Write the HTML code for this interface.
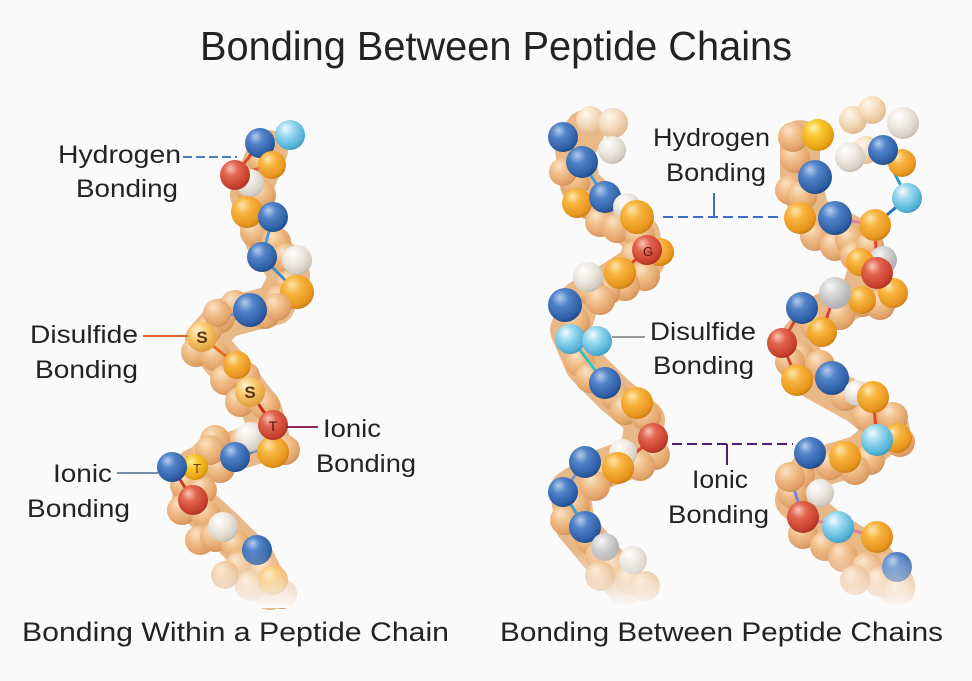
<!DOCTYPE html>
<html><head><meta charset="utf-8"><style>
html,body{margin:0;padding:0;background:#fbfafb;}
svg{display:block;}
text{font-family:"Liberation Sans",sans-serif;fill:#232323;}
</style></head><body>
<svg width="972" height="681" viewBox="0 0 972 681" xmlns="http://www.w3.org/2000/svg">
<defs>
<radialGradient id="gOr" cx="0.4" cy="0.35" r="0.7" fx="0.35" fy="0.28"><stop offset="0" stop-color="#fde6b0"/><stop offset="0.35" stop-color="#f8b540"/><stop offset="0.8" stop-color="#e8961e"/><stop offset="1" stop-color="#c47812"/></radialGradient>
<radialGradient id="gYe" cx="0.4" cy="0.35" r="0.7" fx="0.35" fy="0.28"><stop offset="0" stop-color="#fff2b0"/><stop offset="0.35" stop-color="#f9c932"/><stop offset="0.8" stop-color="#e9a414"/><stop offset="1" stop-color="#c8860d"/></radialGradient>
<radialGradient id="gTan" cx="0.4" cy="0.35" r="0.7" fx="0.35" fy="0.28"><stop offset="0" stop-color="#fbe3c6"/><stop offset="0.4" stop-color="#f1c08c"/><stop offset="0.85" stop-color="#dfa066"/><stop offset="1" stop-color="#c98a52"/></radialGradient>
<radialGradient id="gPale" cx="0.4" cy="0.35" r="0.7" fx="0.35" fy="0.28"><stop offset="0" stop-color="#fff6ea"/><stop offset="0.5" stop-color="#f5dcbd"/><stop offset="1" stop-color="#dfb58a"/></radialGradient>
<radialGradient id="gBl" cx="0.4" cy="0.35" r="0.7" fx="0.35" fy="0.28"><stop offset="0" stop-color="#b3cdee"/><stop offset="0.35" stop-color="#5183c8"/><stop offset="0.8" stop-color="#2f5fa6"/><stop offset="1" stop-color="#1e4580"/></radialGradient>
<radialGradient id="gLb" cx="0.4" cy="0.35" r="0.7" fx="0.35" fy="0.28"><stop offset="0" stop-color="#f2fbff"/><stop offset="0.4" stop-color="#94d6ee"/><stop offset="0.85" stop-color="#4fb0d4"/><stop offset="1" stop-color="#3a90b4"/></radialGradient>
<radialGradient id="gRd" cx="0.4" cy="0.35" r="0.7" fx="0.35" fy="0.28"><stop offset="0" stop-color="#f9c6b6"/><stop offset="0.35" stop-color="#e2654f"/><stop offset="0.8" stop-color="#c9402f"/><stop offset="1" stop-color="#a32f22"/></radialGradient>
<radialGradient id="gWh" cx="0.4" cy="0.35" r="0.7" fx="0.35" fy="0.28"><stop offset="0" stop-color="#ffffff"/><stop offset="0.45" stop-color="#eee9e1"/><stop offset="0.85" stop-color="#d4cdc2"/><stop offset="1" stop-color="#b9b1a6"/></radialGradient>
<radialGradient id="gGr" cx="0.4" cy="0.35" r="0.7" fx="0.35" fy="0.28"><stop offset="0" stop-color="#f6f6f6"/><stop offset="0.45" stop-color="#d2d2d2"/><stop offset="1" stop-color="#a9a9a9"/></radialGradient>
<radialGradient id="gS" cx="0.4" cy="0.35" r="0.7" fx="0.35" fy="0.28"><stop offset="0" stop-color="#fff3cc"/><stop offset="0.45" stop-color="#f8c86c"/><stop offset="1" stop-color="#dd9a36"/></radialGradient>
<linearGradient id="fade" x1="0" y1="0" x2="0" y2="1"><stop offset="0" stop-color="#fbfafb" stop-opacity="0"/><stop offset="1" stop-color="#fbfafb" stop-opacity="1"/></linearGradient>
</defs>

<!-- Title -->
<text x="200" y="60" font-size="41" textLength="592" lengthAdjust="spacingAndGlyphs">Bonding Between Peptide Chains</text>

<!-- ========== LEFT CHAIN ========== -->
<polyline points="268,150 250,195 265,240 290,275 275,305 225,318 205,340 235,375 262,410 270,440 230,452 195,468 192,500 225,530 255,560 270,590" fill="none" stroke="#e6b07a" stroke-width="40" stroke-linejoin="round" stroke-linecap="round" opacity="0.9"/>
<g fill="url(#gTan)">
<circle cx="262" cy="160" r="14"/><circle cx="250" cy="188" r="15"/><circle cx="262" cy="195" r="14"/>
<circle cx="255" cy="232" r="15"/><circle cx="276" cy="242" r="15"/><circle cx="287" cy="258" r="15"/>
<circle cx="290" cy="285" r="15"/><circle cx="280" cy="300" r="15"/><circle cx="265" cy="314" r="15"/>
<circle cx="235" cy="305" r="15"/><circle cx="220" cy="318" r="15"/><circle cx="208" cy="330" r="14"/>
<circle cx="196" cy="352" r="15"/><circle cx="215" cy="356" r="15"/><circle cx="225" cy="380" r="15"/>
<circle cx="246" cy="376" r="14"/><circle cx="240" cy="402" r="15"/><circle cx="265" cy="405" r="15"/>
<circle cx="285" cy="450" r="15"/><circle cx="260" cy="435" r="15"/><circle cx="243" cy="442" r="15"/>
<circle cx="215" cy="440" r="15"/><circle cx="205" cy="455" r="15"/><circle cx="220" cy="468" r="15"/>
<circle cx="185" cy="485" r="15"/><circle cx="203" cy="490" r="14"/><circle cx="182" cy="510" r="15"/>
<circle cx="206" cy="515" r="15"/><circle cx="200" cy="540" r="15"/><circle cx="215" cy="537" r="15"/>
<circle cx="236" cy="546" r="15"/><circle cx="240" cy="566" r="15"/><circle cx="265" cy="570" r="15"/>
<circle cx="250" cy="586" r="15"/><circle cx="282" cy="594" r="15"/><circle cx="225" cy="575" r="14"/>
</g>
<!-- bonds -->
<g stroke-width="3" stroke-linecap="round">
<line x1="235" y1="175" x2="260" y2="143" stroke="#d9442f"/>
<line x1="235" y1="175" x2="272" y2="165" stroke="#e0603a"/>
<line x1="273" y1="217" x2="262" y2="257" stroke="#4a9fd8"/>
<line x1="262" y1="257" x2="297" y2="292" stroke="#3d8cd0"/>
<line x1="250" y1="310" x2="218" y2="318" stroke="#6b9be0"/>
<line x1="202" y1="337" x2="237" y2="365" stroke="#e0701e"/>
<line x1="237" y1="365" x2="250" y2="392" stroke="#f5d21a"/>
<line x1="250" y1="392" x2="273" y2="425" stroke="#cc2a1a"/>
<line x1="172" y1="467" x2="193" y2="500" stroke="#cc3a2a"/>
<line x1="235" y1="457" x2="258" y2="450" stroke="#3d8cd0"/>
</g>
<g>
<circle cx="250" cy="183" r="14" fill="url(#gWh)"/>
<circle cx="260" cy="143" r="15" fill="url(#gBl)"/>
<circle cx="290" cy="135" r="15" fill="url(#gLb)"/>
<circle cx="272" cy="165" r="14" fill="url(#gOr)"/>
<circle cx="235" cy="175" r="15" fill="url(#gRd)"/>
<circle cx="247" cy="212" r="16" fill="url(#gOr)"/>
<circle cx="273" cy="217" r="15" fill="url(#gBl)"/>
<circle cx="297" cy="260" r="15" fill="url(#gWh)"/>
<circle cx="262" cy="257" r="15" fill="url(#gBl)"/>
<circle cx="297" cy="292" r="17" fill="url(#gOr)"/>
<circle cx="277" cy="307" r="14" fill="url(#gTan)"/>
<circle cx="217" cy="313" r="14" fill="url(#gTan)"/>
<circle cx="250" cy="310" r="17" fill="url(#gBl)"/>
<circle cx="202" cy="337" r="15" fill="url(#gS)"/>
<circle cx="237" cy="365" r="14" fill="url(#gOr)"/>
<circle cx="250" cy="392" r="15" fill="url(#gS)"/>
<circle cx="250" cy="437" r="15" fill="url(#gWh)"/>
<circle cx="273" cy="452" r="16" fill="url(#gOr)"/>
<circle cx="273" cy="425" r="15" fill="url(#gRd)"/>
<circle cx="210" cy="450" r="15" fill="url(#gTan)"/>
<circle cx="235" cy="457" r="15" fill="url(#gBl)"/>
<circle cx="195" cy="467" r="13" fill="url(#gYe)"/>
<circle cx="172" cy="467" r="15" fill="url(#gBl)"/>
<circle cx="193" cy="500" r="15" fill="url(#gRd)"/>
<circle cx="223" cy="527" r="15" fill="url(#gWh)"/>
<circle cx="257" cy="550" r="15" fill="url(#gBl)"/>
<circle cx="273" cy="580" r="15" fill="url(#gOr)"/>
</g>
<text x="202" y="343" font-size="17" font-weight="bold" text-anchor="middle" style="fill:#5a3510">S</text>
<text x="250" y="398" font-size="17" font-weight="bold" text-anchor="middle" style="fill:#5a3510">S</text>
<text x="273" y="431" font-size="14" text-anchor="middle" style="fill:#4a1a10">T</text>
<text x="197" y="473" font-size="13" text-anchor="middle" style="fill:#6a4510">T</text>
<rect x="140" y="550" width="200" height="58" fill="url(#fade)"/>

<!-- ========== RIGHT CHAIN 1 ========== -->
<polyline points="585,130 575,150 580,185 610,210 640,235 645,260 615,280 580,300 570,330 585,365 615,395 645,420 640,455 600,470 570,490 575,525 600,555 625,585" fill="none" stroke="#e6b07a" stroke-width="40" stroke-linejoin="round" stroke-linecap="round" opacity="0.9"/>
<g>
<circle cx="590" cy="120" r="14" fill="url(#gPale)"/>
<circle cx="613" cy="123" r="15" fill="url(#gPale)"/>
<circle cx="612" cy="150" r="14" fill="url(#gWh)"/>
</g>
<g fill="url(#gTan)">
<circle cx="575" cy="182" r="15"/><circle cx="590" cy="205" r="15"/><circle cx="600" cy="222" r="15"/>
<circle cx="617" cy="228" r="15"/><circle cx="640" cy="236" r="15"/><circle cx="635" cy="256" r="15"/>
<circle cx="660" cy="252" r="14"/><circle cx="645" cy="276" r="15"/><circle cx="625" cy="286" r="15"/>
<circle cx="605" cy="292" r="15"/><circle cx="590" cy="290" r="15"/><circle cx="600" cy="300" r="15"/>
<circle cx="575" cy="322" r="15"/><circle cx="580" cy="362" r="15"/><circle cx="590" cy="378" r="15"/>
<circle cx="615" cy="396" r="15"/><circle cx="625" cy="410" r="15"/><circle cx="646" cy="416" r="15"/>
<circle cx="655" cy="455" r="15"/><circle cx="640" cy="466" r="15"/><circle cx="600" cy="476" r="15"/>
<circle cx="595" cy="486" r="15"/><circle cx="575" cy="506" r="15"/><circle cx="565" cy="520" r="15"/>
<circle cx="590" cy="540" r="15"/><circle cx="600" cy="556" r="15"/><circle cx="615" cy="566" r="15"/>
<circle cx="630" cy="580" r="15"/><circle cx="600" cy="576" r="15"/><circle cx="645" cy="586" r="15"/>
</g>
<g stroke-width="3" stroke-linecap="round">
<line x1="563" y1="137" x2="582" y2="162" stroke="#3aa0d0"/>
<line x1="582" y1="162" x2="605" y2="197" stroke="#3aa0d0"/>
<line x1="647" y1="250" x2="620" y2="273" stroke="#e0401e"/>
<line x1="570" y1="337" x2="605" y2="383" stroke="#38c0c0"/>
<line x1="653" y1="438" x2="618" y2="468" stroke="#d9442f"/>
<line x1="585" y1="462" x2="563" y2="492" stroke="#7a90d8"/>
<line x1="563" y1="492" x2="585" y2="527" stroke="#3aa0d0"/>
<line x1="585" y1="527" x2="605" y2="547" stroke="#3aa0d0"/>
</g>
<g>
<circle cx="563" cy="137" r="15" fill="url(#gBl)"/>
<circle cx="563" cy="172" r="14" fill="url(#gTan)"/>
<circle cx="582" cy="162" r="16" fill="url(#gBl)"/>
<circle cx="577" cy="203" r="15" fill="url(#gOr)"/>
<circle cx="605" cy="197" r="16" fill="url(#gBl)"/>
<circle cx="627" cy="207" r="14" fill="url(#gWh)"/>
<circle cx="637" cy="217" r="17" fill="url(#gOr)"/>
<circle cx="660" cy="252" r="14" fill="url(#gOr)"/>
<circle cx="647" cy="250" r="15" fill="url(#gRd)"/>
<circle cx="588" cy="277" r="15" fill="url(#gWh)"/>
<circle cx="620" cy="273" r="16" fill="url(#gOr)"/>
<circle cx="565" cy="305" r="17" fill="url(#gBl)"/>
<circle cx="570" cy="339" r="15" fill="url(#gLb)"/>
<circle cx="597" cy="341" r="15" fill="url(#gLb)"/>
<circle cx="605" cy="383" r="16" fill="url(#gBl)"/>
<circle cx="637" cy="403" r="16" fill="url(#gOr)"/>
<circle cx="623" cy="453" r="14" fill="url(#gWh)"/>
<circle cx="653" cy="438" r="15" fill="url(#gRd)"/>
<circle cx="585" cy="462" r="16" fill="url(#gBl)"/>
<circle cx="618" cy="468" r="16" fill="url(#gOr)"/>
<circle cx="563" cy="492" r="15" fill="url(#gBl)"/>
<circle cx="585" cy="527" r="16" fill="url(#gBl)"/>
<circle cx="605" cy="547" r="14" fill="url(#gGr)"/>
<circle cx="633" cy="560" r="14" fill="url(#gWh)"/>
</g>
<text x="648" y="256" font-size="13" text-anchor="middle" style="fill:#5a1a10">G</text>
<rect x="530" y="550" width="160" height="58" fill="url(#fade)"/>

<!-- ========== RIGHT CHAIN 2 ========== -->
<polyline points="800,140 800,175 810,215 850,235 870,265 860,295 820,315 795,345 815,380 860,405 890,430 860,455 810,470 795,500 830,530 870,555 895,585" fill="none" stroke="#e6b07a" stroke-width="40" stroke-linejoin="round" stroke-linecap="round" opacity="0.9"/>
<g>
<circle cx="853" cy="120" r="14" fill="url(#gPale)"/>
<circle cx="872" cy="110" r="14" fill="url(#gPale)"/>
<circle cx="903" cy="123" r="16" fill="url(#gWh)"/>
<circle cx="866" cy="150" r="14" fill="url(#gPale)"/>
<circle cx="850" cy="157" r="15" fill="url(#gWh)"/>
</g>
<g fill="url(#gTan)">
<circle cx="795" cy="158" r="15"/><circle cx="790" cy="190" r="15"/><circle cx="802" cy="196" r="15"/>
<circle cx="815" cy="236" r="15"/><circle cx="835" cy="246" r="15"/><circle cx="850" cy="240" r="15"/>
<circle cx="855" cy="256" r="15"/><circle cx="870" cy="246" r="14"/><circle cx="862" cy="302" r="15"/>
<circle cx="880" cy="305" r="15"/><circle cx="840" cy="315" r="15"/><circle cx="815" cy="325" r="15"/>
<circle cx="800" cy="357" r="15"/><circle cx="790" cy="362" r="15"/><circle cx="820" cy="365" r="15"/>
<circle cx="845" cy="396" r="15"/><circle cx="867" cy="417" r="15"/><circle cx="893" cy="417" r="15"/>
<circle cx="900" cy="442" r="15"/><circle cx="870" cy="460" r="15"/><circle cx="855" cy="470" r="15"/>
<circle cx="830" cy="465" r="15"/><circle cx="800" cy="475" r="15"/><circle cx="790" cy="478" r="15"/>
<circle cx="793" cy="494" r="15"/><circle cx="803" cy="534" r="15"/><circle cx="825" cy="546" r="15"/>
<circle cx="843" cy="557" r="15"/><circle cx="867" cy="567" r="15"/><circle cx="880" cy="582" r="15"/>
<circle cx="855" cy="580" r="15"/><circle cx="900" cy="590" r="15"/>
</g>
<g stroke-width="3" stroke-linecap="round">
<line x1="883" y1="150" x2="907" y2="198" stroke="#2aa0c8"/>
<line x1="907" y1="198" x2="875" y2="225" stroke="#2a70c0"/>
<line x1="835" y1="218" x2="875" y2="225" stroke="#e080b0"/>
<line x1="875" y1="225" x2="877" y2="273" stroke="#d9442f"/>
<line x1="802" y1="308" x2="782" y2="343" stroke="#d9442f"/>
<line x1="835" y1="293" x2="822" y2="332" stroke="#d9442f"/>
<line x1="782" y1="343" x2="797" y2="380" stroke="#d9442f"/>
<line x1="832" y1="378" x2="873" y2="397" stroke="#8a90e0"/>
<line x1="873" y1="397" x2="877" y2="440" stroke="#d9442f"/>
<line x1="790" y1="477" x2="803" y2="517" stroke="#7a80e0"/>
<line x1="803" y1="517" x2="877" y2="537" stroke="#e080a0"/>
</g>
<g>
<circle cx="793" cy="137" r="15" fill="url(#gTan)"/>
<circle cx="818" cy="135" r="16" fill="url(#gYe)"/>
<circle cx="902" cy="163" r="14" fill="url(#gOr)"/>
<circle cx="883" cy="150" r="15" fill="url(#gBl)"/>
<circle cx="815" cy="177" r="17" fill="url(#gBl)"/>
<circle cx="907" cy="198" r="15" fill="url(#gLb)"/>
<circle cx="800" cy="218" r="16" fill="url(#gOr)"/>
<circle cx="835" cy="218" r="17" fill="url(#gBl)"/>
<circle cx="875" cy="225" r="16" fill="url(#gOr)"/>
<circle cx="883" cy="260" r="14" fill="url(#gGr)"/>
<circle cx="860" cy="262" r="14" fill="url(#gOr)"/>
<circle cx="893" cy="293" r="15" fill="url(#gOr)"/>
<circle cx="877" cy="273" r="16" fill="url(#gRd)"/>
<circle cx="862" cy="300" r="14" fill="url(#gOr)"/>
<circle cx="835" cy="293" r="16" fill="url(#gGr)"/>
<circle cx="802" cy="308" r="16" fill="url(#gBl)"/>
<circle cx="822" cy="332" r="15" fill="url(#gOr)"/>
<circle cx="782" cy="343" r="15" fill="url(#gRd)"/>
<circle cx="797" cy="380" r="16" fill="url(#gOr)"/>
<circle cx="832" cy="378" r="17" fill="url(#gBl)"/>
<circle cx="857" cy="393" r="13" fill="url(#gWh)"/>
<circle cx="873" cy="397" r="16" fill="url(#gOr)"/>
<circle cx="897" cy="438" r="15" fill="url(#gOr)"/>
<circle cx="877" cy="440" r="16" fill="url(#gLb)"/>
<circle cx="790" cy="477" r="15" fill="url(#gTan)"/>
<circle cx="820" cy="493" r="14" fill="url(#gWh)"/>
<circle cx="845" cy="457" r="16" fill="url(#gOr)"/>
<circle cx="810" cy="453" r="16" fill="url(#gBl)"/>
<circle cx="803" cy="517" r="16" fill="url(#gRd)"/>
<circle cx="838" cy="527" r="16" fill="url(#gLb)"/>
<circle cx="877" cy="537" r="16" fill="url(#gOr)"/>
<circle cx="897" cy="567" r="15" fill="url(#gBl)"/>
</g>
<rect x="765" y="552" width="170" height="56" fill="url(#fade)"/>

<!-- ========== LEADER LINES ========== -->
<line x1="183" y1="157" x2="237" y2="157" stroke="#4a7cc4" stroke-width="2" stroke-dasharray="9,4"/>
<line x1="143" y1="336" x2="188" y2="336" stroke="#e0602a" stroke-width="2"/>
<line x1="286" y1="427" x2="318" y2="427" stroke="#8a2a5a" stroke-width="2"/>
<line x1="117" y1="473" x2="158" y2="473" stroke="#7a8aa8" stroke-width="2"/>

<line x1="663" y1="217" x2="778" y2="217" stroke="#3a70c0" stroke-width="2" stroke-dasharray="10,5"/>
<line x1="714" y1="193" x2="714" y2="217" stroke="#3a70c0" stroke-width="2"/>
<line x1="612" y1="337" x2="645" y2="337" stroke="#9a9a9a" stroke-width="2"/>
<line x1="672" y1="444" x2="793" y2="444" stroke="#5a1a7a" stroke-width="2" stroke-dasharray="10,5"/>
<line x1="727" y1="444" x2="727" y2="465" stroke="#5a1a7a" stroke-width="2"/>

<!-- ========== LABELS ========== -->
<g font-size="25">
<text x="58" y="163" textLength="123" lengthAdjust="spacingAndGlyphs">Hydrogen</text>
<text x="76" y="197" textLength="102" lengthAdjust="spacingAndGlyphs">Bonding</text>
<text x="30" y="343" textLength="108" lengthAdjust="spacingAndGlyphs">Disulfide</text>
<text x="35" y="378" textLength="103" lengthAdjust="spacingAndGlyphs">Bonding</text>
<text x="323" y="437" textLength="58" lengthAdjust="spacingAndGlyphs">Ionic</text>
<text x="316" y="472" textLength="100" lengthAdjust="spacingAndGlyphs">Bonding</text>
<text x="53" y="482" textLength="59" lengthAdjust="spacingAndGlyphs">Ionic</text>
<text x="27" y="517" textLength="103" lengthAdjust="spacingAndGlyphs">Bonding</text>

<text x="653" y="146" textLength="117" lengthAdjust="spacingAndGlyphs">Hydrogen</text>
<text x="666" y="181" textLength="100" lengthAdjust="spacingAndGlyphs">Bonding</text>
<text x="650" y="340" textLength="106" lengthAdjust="spacingAndGlyphs">Disulfide</text>
<text x="653" y="374" textLength="101" lengthAdjust="spacingAndGlyphs">Bonding</text>
<text x="692" y="488" textLength="56" lengthAdjust="spacingAndGlyphs">Ionic</text>
<text x="668" y="523" textLength="101" lengthAdjust="spacingAndGlyphs">Bonding</text>
</g>

<!-- Captions -->
<text x="22" y="641" font-size="27" textLength="427" lengthAdjust="spacingAndGlyphs">Bonding Within a Peptide Chain</text>
<text x="500" y="641" font-size="27" textLength="443" lengthAdjust="spacingAndGlyphs">Bonding Between Peptide Chains</text>
</svg>
</body></html>
